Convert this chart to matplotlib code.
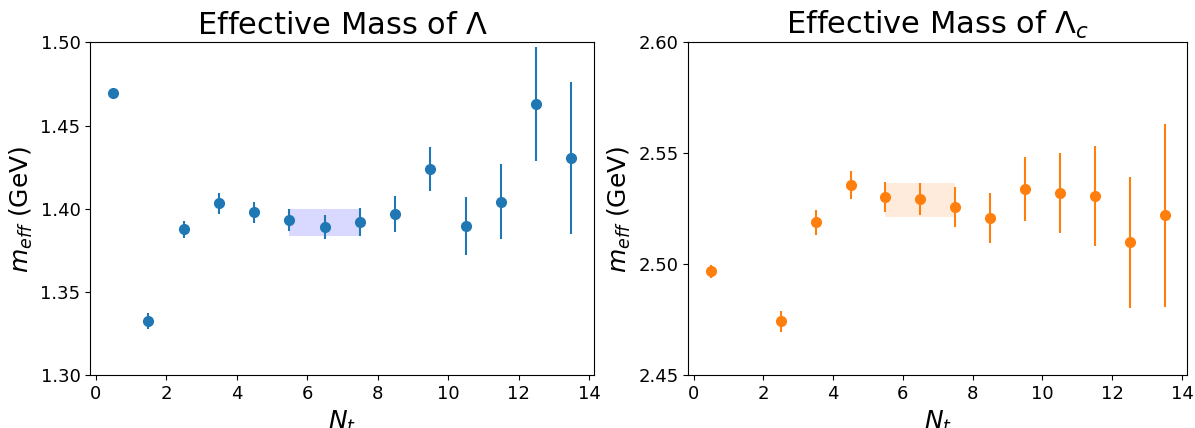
import matplotlib
matplotlib.use("Agg")
import matplotlib.pyplot as plt
import numpy as np

# Data for Lambda
nt_lam = [0.5, 1.5, 2.5, 3.5, 4.5, 5.5, 6.5, 7.5, 8.5, 9.5, 10.5, 11.5, 12.5, 13.5]
m_lam = [1.4694, 1.3326, 1.3877, 1.4035, 1.3980, 1.3931, 1.3891, 1.3923, 1.3967, 1.4239,
         1.3897, 1.4043, 1.4630, 1.4307]
err_lam = [0.0030, 0.0046, 0.0052, 0.0063, 0.0064, 0.0066, 0.0072, 0.0084, 0.0108, 0.0132,
           0.0174, 0.0226, 0.0343, 0.0455]
band_lam_x = [5.5, 7.5]
band_lam_lo = 1.3838
band_lam_hi = 1.3999

# Data for Lambda_c
nt_lc = [0.5, 2.5, 3.5, 4.5, 5.5, 6.5, 7.5, 8.5, 9.5, 10.5, 11.5, 12.5, 13.5]
m_lc = [2.4968, 2.4744, 2.5189, 2.5357, 2.5304, 2.5295, 2.5257, 2.5207, 2.5338, 2.5322,
        2.5308, 2.5099, 2.5222]
err_lc = [0.0030, 0.0047, 0.0056, 0.0063, 0.0068, 0.0072, 0.0090, 0.0113, 0.0144, 0.0180,
          0.0225, 0.0295, 0.0412]
band_lc_x = [5.5, 7.5]
band_lc_lo = 2.5212
band_lc_hi = 2.5365

lam_yticks = [1.30, 1.35, 1.40, 1.45, 1.50]
lc_yticks = [2.45, 2.50, 2.55, 2.60]

fig = plt.figure(figsize=(11.95, 4.28), dpi=100)
ax1 = fig.add_axes([0.0756, 0.123, 0.4217, 0.778])
ax2 = fig.add_axes([0.576, 0.123, 0.4175, 0.778])

ax1.errorbar(nt_lam, m_lam, yerr=err_lam, fmt='o', color='C0', markersize=7)
ax1.fill_between(band_lam_x, band_lam_lo, band_lam_hi, color='b', alpha=0.15, linewidth=0)
ax1.set_ylim(lam_yticks[0], lam_yticks[-1])
ax1.set_yticks(lam_yticks)
ax1.set_title(r"Effective Mass of $\Lambda$", fontsize=22)

ax2.errorbar(nt_lc, m_lc, yerr=err_lc, fmt='o', color='C1', markersize=7)
ax2.fill_between(band_lc_x, band_lc_lo, band_lc_hi, color='C1', alpha=0.15, linewidth=0)
ax2.set_ylim(lc_yticks[0], lc_yticks[-1])
ax2.set_yticks(lc_yticks)
ax2.set_title(r"Effective Mass of $\Lambda_c$", fontsize=22)

for ax in (ax1, ax2):
    ax.set_xlim(-0.15, 14.15)
    ax.set_xticks([0, 2, 4, 6, 8, 10, 12, 14])
    ax.set_xlabel(r"$N_t$", fontsize=18)
    ax.set_ylabel(r"$m_{eff}$ (GeV)", fontsize=18)
    ax.tick_params(labelsize=13)
    ax.yaxis.set_major_formatter(matplotlib.ticker.FormatStrFormatter('%.2f'))

fig.savefig("out.png", dpi=100)
